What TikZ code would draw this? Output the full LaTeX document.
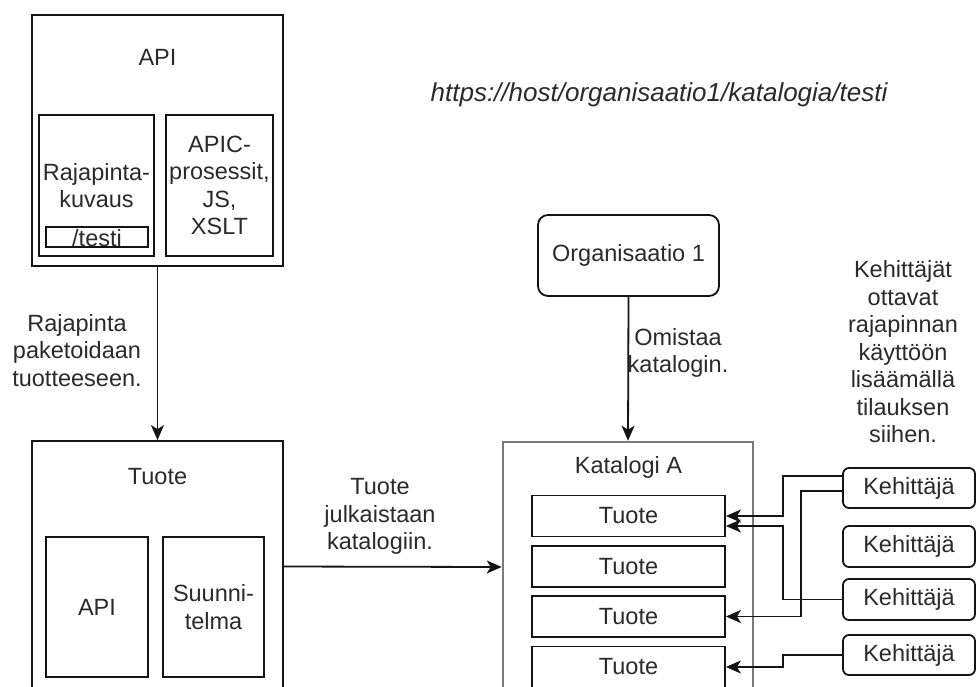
\documentclass[tikz,border=0pt]{standalone}
\usepackage{fontspec}
\setmainfont{Liberation Sans}
\usetikzlibrary{arrows.meta,calc}
\definecolor{txt}{HTML}{2A2A2A}
\definecolor{edge}{HTML}{141414}
\definecolor{katc}{HTML}{7A7A7A}
\tikzset{
  box/.style={draw=edge, line width=1.8pt, inner sep=0pt, rectangle, text=txt,
    font=\fontsize{23.5pt}{27.5pt}\selectfont, align=center},
  rbox/.style={box, rounded corners=#1},
  lbl/.style={text=txt, font=\fontsize{23.5pt}{27.5pt}\selectfont, align=center, inner sep=0pt},
  conn/.style={draw=edge, line width=1.8pt, -{Stealth[length=15pt,width=13pt,inset=4pt]}}
}
\begin{document}
\begin{tikzpicture}[x=1pt,y=-1pt]
\useasboundingbox (0,0) rectangle (976,686);
\clip (0,0) rectangle (976,686);

% API box
\node[box, minimum width=251pt, minimum height=251pt] (api) at (157.5,140.5) {};
\node[lbl] (apilbl) at (157.5,57) {API};
\node[box, minimum width=115pt, minimum height=141pt] (rk) at (96.5,185.5) {Rajapinta-\\kuvaus};
\node[box, minimum width=107pt, minimum height=141pt] (apic) at (219.5,185.5) {APIC-\\prosessit,\\JS,\\XSLT};
\node[box, minimum width=102pt, minimum height=20pt] (testi) at (97,237) {};
\node[lbl] (testilbl) at (97,238) {/testi};

% Tuote box
\node[box, minimum width=251pt, minimum height=251pt] (tuote) at (157.5,566.5) {};
\node[lbl] (tuotelbl) at (157.5,477) {Tuote};
\node[box, minimum width=102pt, minimum height=140pt] (tapi) at (97,607) {API};
\node[box, minimum width=101pt, minimum height=140pt] (tsuun) at (213.5,607) {Suunni-\\telma};

% URL
\node[lbl, font=\fontsize{26pt}{30pt}\selectfont\itshape] (url) at (659,95) {https://host/organisaatio1/katalogia/testi};

% Organisaatio
\node[rbox=10pt, minimum width=181pt, minimum height=81pt] (org) at (628.5,255.5) {Organisaatio 1};

% Katalogi
\node[box, draw=katc, line width=2.6pt, minimum width=250pt, minimum height=250pt] (kat) at (628,567) {};
\node[lbl] (katlbl) at (628.5,467) {Katalogi A};
\node[box, minimum width=193pt, minimum height=41pt] (t1) at (628.5,516) {Tuote};
\node[box, minimum width=193pt, minimum height=41pt] (t2) at (628.5,566.5) {Tuote};
\node[box, minimum width=193pt, minimum height=41pt] (t3) at (628.5,616.5) {Tuote};
\node[box, minimum width=193pt, minimum height=41pt] (t4) at (628.5,667) {Tuote};

% Kehittajat
\node[rbox=6pt, minimum width=132pt, minimum height=40pt] (k1) at (909,488) {Kehittäjä};
\node[rbox=6pt, minimum width=132pt, minimum height=41pt] (k2) at (909,546.5) {Kehittäjä};
\node[rbox=6pt, minimum width=132pt, minimum height=41pt] (k3) at (909,599.5) {Kehittäjä};
\node[rbox=6pt, minimum width=132pt, minimum height=40pt] (k4) at (909,655) {Kehittäjä};

% labels
\node[lbl] (l1) at (77,350.5) {Rajapinta\\paketoidaan\\tuotteeseen.};
\node[lbl] (l2) at (380,516.5) {Tuote\\julkaistaan\\katalogiin.};
\node[lbl] (l3) at (678,353) {Omistaa\\katalogin.};
\node[lbl] (l4) at (903,352) {Kehittäjät\\ottavat\\rajapinnan\\käyttöön\\lisäämällä\\tilauksen\\siihen.};

% connectors
\draw[conn] (api.south) -- (tuote.north);
\draw[conn] (tuote.east) -- (kat.west);
\draw[conn] (org.south) -- (kat.north);

\draw[conn] ([yshift=12pt]k1.west) -- ++(-59,0) |- (t1.east);
\draw[conn] ([yshift=-3pt]k1.west) -- ++(-41,0) |- (t3.east);
\draw[conn] (k3.west) -- ++(-59,0) |- ([yshift=-10pt]t1.east);
\draw[conn] (k4.west) -- ++(-59,0) |- (t4.east);
\end{tikzpicture}
\end{document}
